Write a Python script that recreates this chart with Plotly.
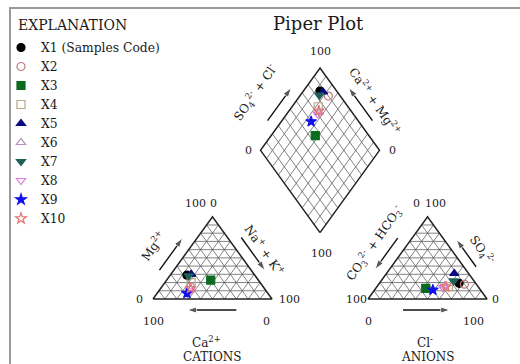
import numpy as np
import plotly.graph_objects as go

# ---------------- data (percent of meq) ----------------
samples = ["X1 (Samples Code)", "X2", "X3", "X4", "X5", "X6", "X7", "X8", "X9", "X10"]
ca   = [57, 61, 40, 58, 53, 62, 56, 64, 68, 62]
mg   = [29, 15, 23, 20, 30, 12, 28, 10, 7, 13]
nak  = [14, 24, 37, 22, 17, 26, 16, 26, 25, 25]
hco3 = [14, 10, 45, 25, 12, 28, 17, 30, 40, 27]
so4  = [19, 18, 13, 15, 31, 16, 22, 14, 11, 15]
cl   = [67, 72, 42, 60, 57, 56, 61, 56, 49, 58]

symbols = ["circle", "circle-open", "square", "square-open", "triangle-up",
           "triangle-up-open", "triangle-down", "triangle-down-open", "star", "star-open"]
colors = ["#000000", "#c07880", "#0b6b1e", "#b8a888", "#0a0a80",
          "#b88cc0", "#1f6058", "#e47ae4", "#1010f0", "#e87070"]

# ---------------- geometry ----------------
H = np.sqrt(3) / 2
GAP = 80.7
BX, BY = 100 + GAP / 2, GAP * H
FONT = "DejaVu Serif"
TXT = "#1a1a1a"


def cat_xy(c, m, n):
    return n + m / 2, m * H


def an_xy(h, s, c):
    return 100 + GAP + c + s / 2, s * H


def dia_xy(cm, sc):
    return BX + (sc - cm) / 2, BY + (sc + cm) * H


fig = go.Figure()

# grid lines
gx, gy = [], []


def seg(p, q):
    gx.extend([p[0], q[0], None])
    gy.extend([p[1], q[1], None])


for k in range(10, 100, 10):
    seg(cat_xy(100 - k, k, 0), cat_xy(0, k, 100 - k))
    seg(cat_xy(100 - k, 0, k), cat_xy(0, 100 - k, k))
    seg(cat_xy(k, 0, 100 - k), cat_xy(k, 100 - k, 0))
    seg(an_xy(100 - k, k, 0), an_xy(0, k, 100 - k))
    seg(an_xy(100 - k, 0, k), an_xy(0, 100 - k, k))
    seg(an_xy(k, 0, 100 - k), an_xy(k, 100 - k, 0))
    seg(dia_xy(k, 0), dia_xy(k, 100))
    seg(dia_xy(0, k), dia_xy(100, k))

fig.add_trace(go.Scatter(x=gx, y=gy, mode="lines", line=dict(color="#5a5a5a", width=0.75),
                         hoverinfo="skip", showlegend=False))

# outlines
ox, oy = [], []
for poly in ([cat_xy(100, 0, 0), cat_xy(0, 0, 100), cat_xy(0, 100, 0), cat_xy(100, 0, 0)],
             [an_xy(100, 0, 0), an_xy(0, 0, 100), an_xy(0, 100, 0), an_xy(100, 0, 0)],
             [dia_xy(0, 0), dia_xy(0, 100), dia_xy(100, 100), dia_xy(100, 0), dia_xy(0, 0)]):
    ox.extend([p[0] for p in poly] + [None])
    oy.extend([p[1] for p in poly] + [None])
fig.add_trace(go.Scatter(x=ox, y=oy, mode="lines", line=dict(color="#222", width=1.5),
                         hoverinfo="skip", showlegend=False))

# samples
for i, name in enumerate(samples):
    p1 = cat_xy(ca[i], mg[i], nak[i])
    p2 = an_xy(hco3[i], so4[i], cl[i])
    p3 = dia_xy(ca[i] + mg[i], so4[i] + cl[i])
    fig.add_trace(go.Scatter(
        x=[p1[0], p2[0], p3[0]], y=[p1[1], p2[1], p3[1]], mode="markers", name=name,
        marker=dict(symbol=symbols[i], size=8, color=colors[i],
                    line=dict(color=colors[i], width=1.2))))

ann = []


def text(x, y, t, size=11, angle=0):
    ann.append(dict(x=x, y=y, text=t, showarrow=False, textangle=angle,
                    font=dict(family=FONT, size=size, color=TXT)))


def arrow(p_from, p_to):
    fig.add_trace(go.Scatter(
        x=[p_from[0], p_to[0]], y=[p_from[1], p_to[1]], mode="lines+markers",
        line=dict(color="#111", width=1.4),
        marker=dict(symbol="arrow", size=[0, 10], angleref="previous", color="#111"),
        hoverinfo="skip", showlegend=False))


def along(p0, p1, t, off):
    # point at fraction t along edge p0->p1, offset 'off' to the left of direction
    dx, dy = p1[0] - p0[0], p1[1] - p0[1]
    L = np.hypot(dx, dy)
    nx, ny = -dy / L, dx / L
    return p0[0] + dx * t + nx * off, p0[1] + dy * t + ny * off


# cation triangle
cL, cR, cT = cat_xy(100, 0, 0), cat_xy(0, 0, 100), cat_xy(0, 100, 0)
arrow(along(cL, cT, 0.29, 10.5), along(cL, cT, 0.68, 10.5))
text(*along(cL, cT, 0.48, 28), "Mg<sup>2+</sup>", 12, -55)
arrow(along(cT, cR, 0.31, 10), along(cT, cR, 0.71, 10))
text(*along(cT, cR, 0.52, 21), "Na<sup>+</sup> + K<sup>+</sup>", 12, 55)
arrow((70, -11.6), (28.6, -11.6))
text(cL[0] - 11, 0, "0")
text(cR[0] + 15, 0, "100")
text(cL[0], -24, "100")
text(cR[0] - 5, -24, "0")
text(cT[0] - 14, cT[1] + 14.4, "100")
text(cT[0] + 1, cT[1] + 14.4, "0")
text(cT[0] - 5, -45, "Ca<sup>2+</sup>", 12)
text(cT[0], -61.5, "CATIONS", 12)

# anion triangle
aL, aR, aT = an_xy(100, 0, 0), an_xy(0, 0, 100), an_xy(0, 100, 0)
arrow(along(aL, aT, 0.68, 10.5), along(aL, aT, 0.30, 10.5))
text(*along(aL, aT, 0.54, 25), "CO<sub>3</sub><sup>2-</sup> + HCO<sub>3</sub><sup>-</sup>", 12, -55)
arrow(along(aT, aR, 0.66, 9), along(aT, aR, 0.33, 9))
text(*along(aT, aR, 0.53, 22), "SO<sub>4</sub><sup>2-</sup>", 12, 55)
arrow((aL[0] + 29.4, -11.6), (aL[0] + 69, -11.6))
text(aL[0] - 10, 0, "100")
text(aR[0] + 7, 0, "0")
text(aL[0], -24, "0")
text(aR[0] - 11, -24, "100")
text(aT[0] - 9, aT[1] + 14.4, "0")
text(aT[0] + 6.5, aT[1] + 14.4, "100")
text(aT[0] - 2, -45, "Cl<sup>-</sup>", 12)
text(aT[0], -61.5, "ANIONS", 12)

# diamond
dB, dL, dT, dR = dia_xy(0, 0), dia_xy(100, 0), dia_xy(100, 100), dia_xy(0, 100)
arrow(along(dL, dT, 0.30, 10.5), along(dL, dT, 0.70, 10.5))
text(*along(dL, dT, 0.50, 34), "SO<sub>4</sub><sup>2-</sup> + Cl<sup>-</sup>", 12, -55)
arrow(along(dR, dT, 0.30, -10.5), along(dR, dT, 0.70, -10.5))
text(*along(dR, dT, 0.47, -23), "Ca<sup>2+</sup> + Mg<sup>2+</sup>", 12, 55)
text(dT[0], dT[1] + 17, "100")
text(dL[0] - 10.5, dL[1], "0")
text(dR[0] + 10.5, dR[1], "0")
text(dB[0] + 1, dB[1] - 22, "100")

# title and legend heading
ann.append(dict(xref="paper", yref="paper", x=318 / 520, y=1 - 23 / 364, text="Piper Plot",
                showarrow=False, xanchor="center", yanchor="middle",
                font=dict(family=FONT, size=18, color=TXT)))
ann.append(dict(xref="paper", yref="paper", x=16 / 520, y=1 - 25 / 364, text="EXPLANATION",
                showarrow=False, xanchor="left", yanchor="middle",
                font=dict(family=FONT, size=14, color=TXT)))

fig.update_layout(
    width=520, height=364, margin=dict(l=0, r=0, t=0, b=0),
    paper_bgcolor="white", plot_bgcolor="white",
    xaxis=dict(range=[-128.57, 308.40], visible=False, fixedrange=True),
    yaxis=dict(range=[-68.42, 314.74], visible=False, fixedrange=True),
    annotations=ann,
    legend=dict(x=1 / 520, y=1 - 33 / 364, xanchor="left", yanchor="top",
                bgcolor="rgba(0,0,0,0)", font=dict(family=FONT, size=12.3, color=TXT)),
    shapes=[dict(type="rect", xref="paper", yref="paper", x0=10 / 520, x1=1.3,
                 y0=-0.3, y1=1 - 8 / 364, line=dict(color="#9a9a9a", width=2))],
)

fig.write_html("out.html", config={"displayModeBar": False},
               post_script="document.body.style.margin='0';document.body.style.overflow='hidden';")
